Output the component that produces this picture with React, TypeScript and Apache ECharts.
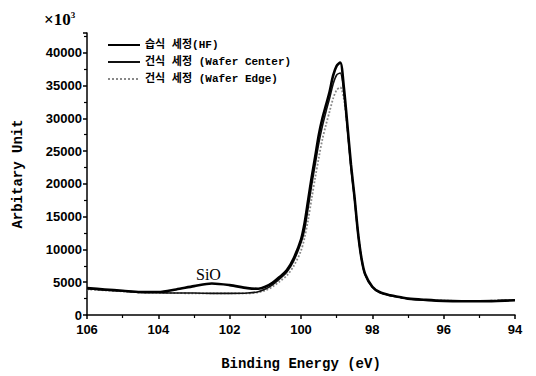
import React, { useEffect, useRef } from "react";
import * as echarts from "echarts";

const energies = [106, 105.5, 105, 104.5, 104, 103.5, 103, 102.5, 102, 101.5, 101.2, 101, 100.8, 100.6, 100.4, 100.2, 100, 99.9, 99.8, 99.7, 99.6, 99.5, 99.4, 99.3, 99.2, 99.1, 99.0, 98.9, 98.8, 98.7, 98.6, 98.5, 98.4, 98.3, 98.2, 98.0, 97.8, 97.5, 97.2, 97, 96.5, 96, 95.5, 95, 94.5, 94];

const wetHF = [4100, 3900, 3700, 3500, 3500, 3900, 4400, 4800, 4550, 4100, 4000, 4300, 4900, 5800, 6800, 8700, 11500, 14000, 17500, 21000, 24200, 27500, 30000, 32000, 34000, 36500, 38000, 38500, 34800, 29000, 23000, 18000, 12500, 8500, 6200, 4300, 3500, 3000, 2700, 2500, 2300, 2150, 2100, 2100, 2150, 2250];

const dryCenter = [4000, 3800, 3650, 3450, 3400, 3350, 3350, 3300, 3300, 3350, 3550, 3950, 4600, 5500, 6500, 8300, 11000, 13000, 16300, 19800, 23000, 26200, 28800, 31000, 33000, 35200, 36600, 36900, 34000, 28500, 22500, 17700, 12300, 8400, 6100, 4250, 3450, 2950, 2650, 2450, 2250, 2150, 2100, 2100, 2150, 2250];

const dryEdge = [3900, 3750, 3600, 3450, 3400, 3350, 3300, 3300, 3300, 3300, 3450, 3750, 4300, 5100, 6000, 7500, 9800, 11800, 14500, 17800, 21000, 24000, 26800, 29000, 31000, 33000, 34300, 34700, 33000, 28500, 22800, 18000, 12600, 8600, 6200, 4300, 3500, 3000, 2700, 2500, 2300, 2200, 2150, 2150, 2200, 2300];

const seriesNames = ["습식 세정(HF)", "건식 세정 (Wafer Center)", "건식 세정 (Wafer Edge)"];

const pair = (vals: number[]) => energies.map((e, i) => [e, vals[i]]);

export default function App() {
  const ref = useRef<HTMLDivElement>(null);
  useEffect(() => {
    if (!ref.current) return;
    const chart = echarts.init(ref.current, null, { renderer: "svg" });
    const monoFont = "Liberation Mono";
    chart.setOption({
      animation: false,
      backgroundColor: "#ffffff",
      grid: { left: 87, right: 21, top: 33, bottom: 57 },
      legend: {
        orient: "vertical",
        left: 102,
        top: 33,
        itemWidth: 32,
        itemHeight: 14,
        itemGap: 3,
        data: seriesNames,
        itemStyle: { opacity: 0 },
        textStyle: {
          fontFamily: "Liberation Mono, Noto Sans CJK KR",
          fontWeight: "bold",
          fontSize: 11,
          lineHeight: 14,
          color: "#000",
        },
      },
      xAxis: {
        type: "value",
        inverse: true,
        min: 94,
        max: 106,
        interval: 2,
        name: "Binding Energy (eV)",
        nameLocation: "middle",
        nameGap: 42,
        nameTextStyle: { fontFamily: monoFont, fontWeight: "bold", fontSize: 14, color: "#000" },
        axisLine: { show: true, lineStyle: { color: "#000", width: 1.5 } },
        axisTick: { show: true, length: 4, lineStyle: { color: "#000", width: 1.5 } },
        minorTick: { show: true, splitNumber: 2, length: 3, lineStyle: { color: "#000", width: 1.2 } },
        axisLabel: { fontFamily: "Liberation Sans", fontWeight: "bold", fontSize: 13, color: "#000", margin: 8, formatter: (v: number) => String(v) },
        splitLine: { show: false },
      },
      yAxis: {
        type: "value",
        min: 0,
        max: 43000,
        interval: 5000,
        name: "Arbitary Unit",
        nameLocation: "middle",
        nameGap: 62,
        nameTextStyle: { fontFamily: monoFont, fontWeight: "bold", fontSize: 14, color: "#000" },
        axisLine: { show: true, lineStyle: { color: "#000", width: 1.5 } },
        axisTick: { show: true, length: 4, lineStyle: { color: "#000", width: 1.5 } },
        minorTick: { show: true, splitNumber: 2, length: 3, lineStyle: { color: "#000", width: 1.2 } },
        axisLabel: { fontFamily: "Liberation Sans", fontWeight: "bold", fontSize: 13, color: "#000", margin: 5, showMaxLabel: false, formatter: (v: number) => String(v) },
        splitLine: { show: false },
      },
      series: [
        {
          name: seriesNames[0],
          type: "line",
          data: pair(wetHF),
          smooth: 0.3,
          symbol: "none",
          lineStyle: { color: "#000", width: 2.6 },
          itemStyle: { color: "#000" },
          z: 3,
        },
        {
          name: seriesNames[1],
          type: "line",
          data: pair(dryCenter),
          smooth: 0.3,
          symbol: "none",
          lineStyle: { color: "#111", width: 1.6 },
          itemStyle: { color: "#111" },
          z: 2,
        },
        {
          name: seriesNames[2],
          type: "line",
          data: pair(dryEdge),
          smooth: 0.3,
          symbol: "none",
          lineStyle: { color: "#888", width: 1.8, type: "dotted" },
          itemStyle: { color: "#888" },
          z: 1,
        },
      ],
      graphic: [
        {
          type: "text",
          left: 44,
          top: 10,
          style: {
            text: "×10{s|3}",
            fontFamily: "Liberation Serif",
            fontWeight: "bold",
            fontSize: 17,
            fill: "#000",
            rich: {
              s: { fontSize: 9, fontFamily: "Liberation Serif", fontWeight: "bold", verticalAlign: "top", padding: [0, 0, 10, 0] },
            },
          },
        },
        {
          type: "text",
          left: 196,
          top: 266,
          style: {
            text: "SiO",
            fontFamily: "Liberation Serif",
            fontSize: 16,
            fill: "#000",
          },
        },
      ],
    });
    return () => chart.dispose();
  }, []);
  return <div ref={ref} style={{ position: "absolute", left: 0, top: 0, width: 536, height: 376 }} />;
}
